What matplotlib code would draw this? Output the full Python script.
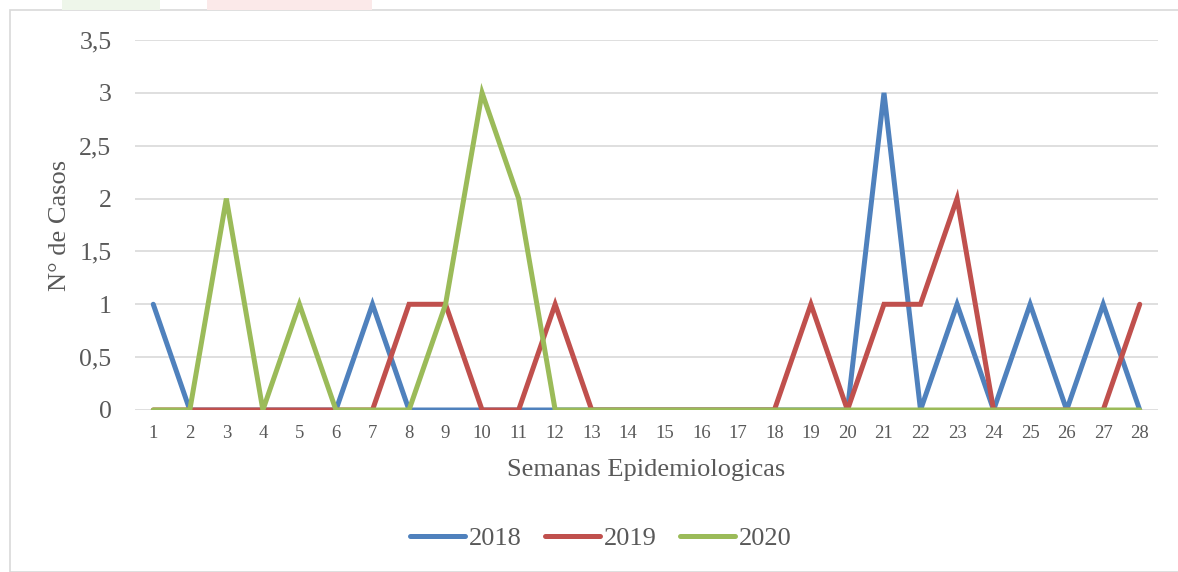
import matplotlib.pyplot as plt
from matplotlib.patches import Rectangle

semanas = [str(i) for i in range(1, 29)]
casos_2018 = [1, 0, 0, 0, 0, 0, 1, 0, 0, 0, 0, 0, 0, 0, 0, 0, 0, 0, 0, 0, 3, 0, 1, 0, 1, 0, 1, 0]
casos_2019 = [0, 0, 0, 0, 0, 0, 0, 1, 1, 0, 0, 1, 0, 0, 0, 0, 0, 0, 1, 0, 1, 1, 2, 0, 0, 0, 0, 1]
casos_2020 = [0, 0, 2, 0, 1, 0, 0, 0, 1, 3, 2, 0, 0, 0, 0, 0, 0, 0, 0, 0, 0, 0, 0, 0, 0, 0, 0, 0]
yticks = [0, 0.5, 1, 1.5, 2, 2.5, 3, 3.5]
ytick_labels = ['0', '0,5', '1', '1,5', '2', '2,5', '3', '3,5']

plt.rcParams['font.family'] = ['Liberation Serif', 'DejaVu Serif']
txt = '#595959'

fig = plt.figure(figsize=(11.78, 5.72), dpi=100)
# chart frame and faint watermark bits
fig.patches.append(Rectangle((10/1178, 0), 1, 1 - 10/572, transform=fig.transFigure,
                             fill=False, edgecolor='#d9d9d9', linewidth=1.2))
fig.patches.append(Rectangle((62/1178, 1 - 10/572), 98/1178, 10/572, transform=fig.transFigure,
                             facecolor='#eef6ea', edgecolor='none'))
fig.patches.append(Rectangle((207/1178, 1 - 10/572), 165/1178, 10/572, transform=fig.transFigure,
                             facecolor='#fbe9e9', edgecolor='none'))

ax = fig.add_axes([135/1178, 1 - 410/572, 1023/1178, 370/572])
x = range(len(semanas))
kw = dict(lw=3.6, solid_capstyle='round', solid_joinstyle='miter')
ax.plot(x, casos_2018, color='#4F81BD', label='2018', **kw)
ax.plot(x, casos_2019, color='#C0504D', label='2019', **kw)
ax.plot(x, casos_2020, color='#9BBB59', label='2020', **kw)

ax.set_xlim(-0.5, len(semanas) - 0.5)
ax.set_ylim(0, 3.5)
ax.set_xticks(list(x))
ax.set_xticklabels(semanas, fontsize=13.5, color=txt)
ax.set_yticks(yticks)
ax.set_yticklabels(ytick_labels, fontsize=18.5, color=txt)
ax.grid(axis='y', color='#d9d9d9', lw=1.2)
ax.set_axisbelow(True)
for s in ax.spines.values():
    s.set_visible(False)
ax.tick_params(length=0)
ax.tick_params(axis='x', pad=11)
ax.tick_params(axis='y', pad=17)
ax.set_ylabel('N° de Casos', fontsize=19, color=txt, labelpad=6)
ax.set_xlabel('Semanas Epidemiologicas', fontsize=19, color=txt, labelpad=12)

ax.legend(loc='center', bbox_to_anchor=(0.4555, -0.346), ncol=3, frameon=False,
          fontsize=19, labelcolor=txt, handlelength=2.08, handletextpad=0.15,
          columnspacing=0.87, borderpad=0)

fig.savefig('out.png', dpi=100)
